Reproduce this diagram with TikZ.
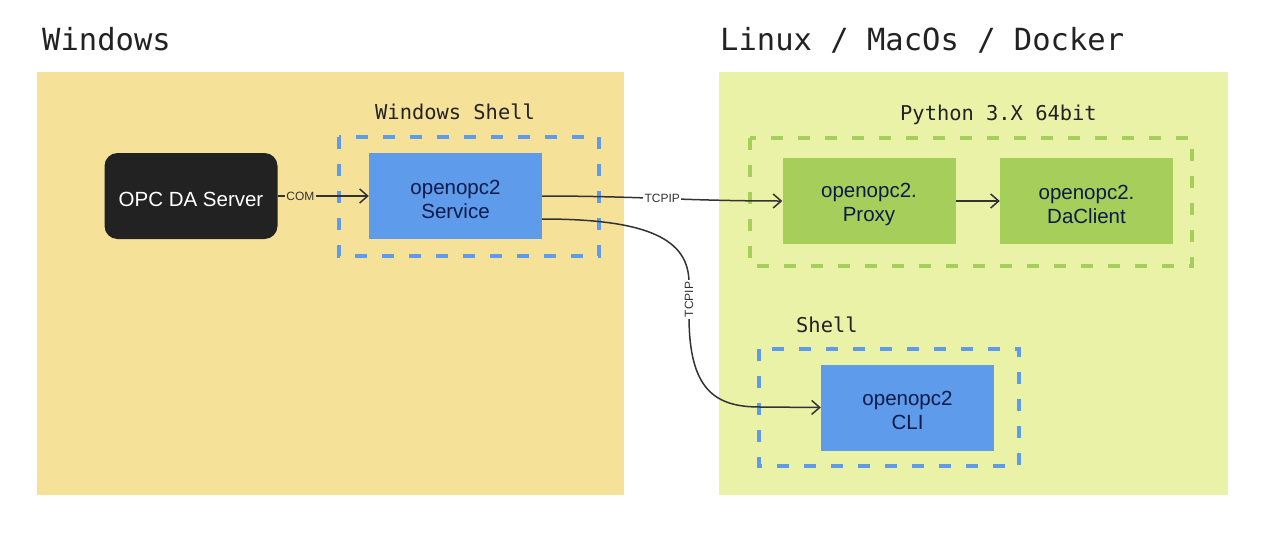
\documentclass[tikz,border=0pt]{standalone}
\usepackage{fontspec}
\setmainfont{Liberation Sans}
\setmonofont{DejaVu Sans Mono}
\usetikzlibrary{arrows.meta}
\definecolor{winbg}{HTML}{F6E199}
\definecolor{linbg}{HTML}{EAF2A8}
\definecolor{bluebox}{HTML}{5E9BEB}
\definecolor{greenbox}{HTML}{A5CE5A}
\definecolor{navy}{HTML}{0B1A48}
\definecolor{darkbox}{HTML}{222222}
\definecolor{linec}{HTML}{333333}
\definecolor{txt}{HTML}{222222}
\begin{document}
\begin{tikzpicture}[x=1pt,y=-1pt,
  title/.style={font=\ttfamily\fontsize{30.5}{36}\selectfont, text=txt, anchor=base west, inner sep=0},
  grouplabel/.style={font=\ttfamily\fontsize{20.4}{24}\selectfont, text=txt, anchor=base west, inner sep=0},
  groupbox/.style={draw=#1, line width=4pt, dash pattern=on 12pt off 15pt},
  comp/.style={fill=#1, draw=none, minimum width=173pt, minimum height=86pt, inner sep=0},
  comptext/.style={align=center, text=navy, font=\fontsize{20.5}{24}\selectfont, inner sep=0, yshift=-3pt},
  conn/.style={draw=linec, line width=1.5pt, -{Straight Barb[length=8pt,width=14pt]}},
  clabel/.style={font=\fontsize{12}{14}\selectfont, text=linec, fill=#1, inner sep=1.5pt},
]
\useasboundingbox (0,0) rectangle (1263,538);
\fill[white] (0,0) rectangle (1263,538);
% regions
\fill[winbg] (37,72) rectangle (624,495);
\fill[linbg] (719,72) rectangle (1228,495);
\node[title] (twin) at (42,50) {Windows};
\node[title] (tlin) at (720,50) {Linux / MacOs / Docker};
% group boxes
\node[grouplabel] (lwsh) at (375,119) {Windows Shell};
\draw[groupbox=bluebox] (339,137) rectangle (599,256);
\node[grouplabel] (lpy) at (900,120) {Python 3.X 64bit};
\draw[groupbox=greenbox] (750,138) rectangle (1192,266);
\node[grouplabel] (lsh) at (796,332) {Shell};
\draw[groupbox=bluebox] (759,349) rectangle (1019,466);
% components
\node[comp=darkbox, rounded corners=13pt,
  label={[comptext, text=white, yshift=-0.5pt]center:OPC DA Server}] (opc) at (191,196) {};
\node[comp=bluebox, label={[comptext]center:openopc2\\Service}] (svc) at (455.5,196) {};
\node[comp=greenbox, label={[comptext]center:openopc2.\\Proxy}] (proxy) at (869,201) {};
\node[comp=greenbox, label={[comptext]center:openopc2.\\DaClient}] (dacl) at (1086.5,201) {};
\node[comp=bluebox, label={[comptext]center:openopc2\\CLI}] (cli) at (907.5,407.5) {};
% connectors
\draw[conn] (opc.east) -- node[clabel=winbg, pos=0.25] {COM} (svc.west);
\draw[conn] (svc.east) to[out=0,in=180] node[clabel=white, pos=0.5] {TCPIP} (proxy.west);
\draw[conn] (proxy.east) -- (dacl.west);
\coordinate (s2) at ([yshift=-23pt]svc.east);
\draw[conn] (s2) .. controls (650,219) and (689,240) .. (689,283)
  -- node[clabel=white, rotate=90, pos=0.5] {TCPIP} (689,316)
  .. controls (689,390) and (715,407) .. (760,407) -- (cli.west);
\end{tikzpicture}
\end{document}
